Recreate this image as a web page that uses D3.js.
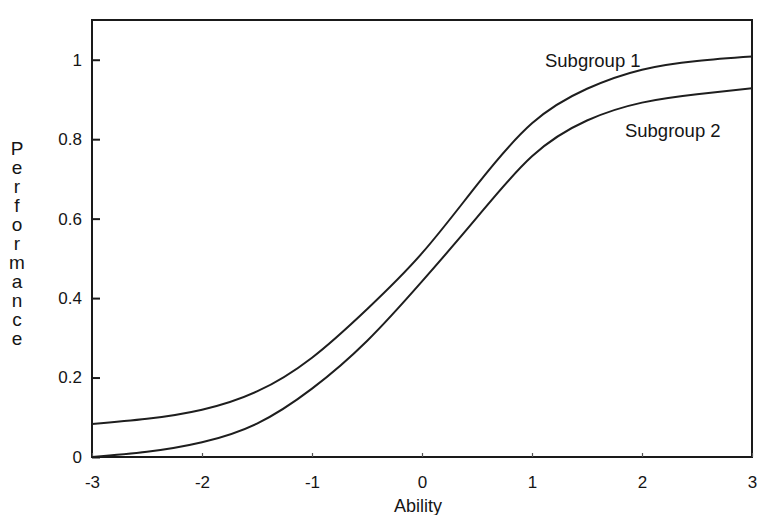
<!DOCTYPE html>
<html>
<head>
<meta charset="utf-8">
<script src="https://cdn.jsdelivr.net/npm/d3@7"></script>
<style>
  body { margin: 0; background: #fff; }
  text { font-family: "Liberation Sans", Arial, sans-serif; fill: #151515; }
</style>
</head>
<body>
<div id="chart"></div>
<script>
// values, x = ability
const abilityPoints = [-3, -2.5, -2, -1.5, -1, -0.5, 0, 0.5, 1, 1.5, 2, 2.5, 3];
const subgroup1 = [0.083, 0.096, 0.119, 0.165, 0.25, 0.372, 0.513, 0.685, 0.84, 0.927, 0.975, 0.997, 1.008];
const subgroup2 = [0.0, 0.013, 0.037, 0.084, 0.172, 0.292, 0.442, 0.603, 0.757, 0.847, 0.892, 0.913, 0.928];
const seriesNames = ["Subgroup 1", "Subgroup 2"];

const xTicks = [-3, -2, -1, 0, 1, 2, 3];
const yTicks = [0, 0.2, 0.4, 0.6, 0.8, 1];
const xTitle = "Ability";
const yTitle = "Performance";

const w = 761;
const h = 515;
const padLeft = 92, padRight = 752, padTop = 20, padBottom = 457;

const svg = d3.select("#chart")
  .append("svg")
  .attr("width", w)
  .attr("height", h);

const xScale = d3.scaleLinear().domain([-3, 3]).range([padLeft, padRight]);
const yScale = d3.scaleLinear().domain([0, 1.1]).range([padBottom, padTop]);

svg.append("clipPath")
  .attr("id", "plot-clip")
  .append("rect")
  .attr("x", padLeft)
  .attr("y", padTop)
  .attr("width", padRight - padLeft)
  .attr("height", padBottom - padTop);

// frame
svg.append("rect")
  .attr("x", padLeft)
  .attr("y", padTop)
  .attr("width", padRight - padLeft)
  .attr("height", padBottom - padTop)
  .attr("fill", "none")
  .attr("stroke", "#1a1a1a")
  .attr("stroke-width", 2);

const yAxis = d3.axisLeft(yScale)
  .tickValues(yTicks)
  .tickSizeInner(-8)
  .tickSizeOuter(0)
  .tickPadding(10)
  .tickFormat(d => d);

const xAxis = d3.axisBottom(xScale)
  .tickValues(xTicks)
  .tickSizeInner(-4)
  .tickSizeOuter(0)
  .tickPadding(19)
  .tickFormat(d => d);

const gy = svg.append("g")
  .attr("transform", "translate(" + padLeft + ",0)")
  .call(yAxis);

const gx = svg.append("g")
  .attr("transform", "translate(0," + padBottom + ")")
  .call(xAxis);

[gx, gy].forEach(g => {
  g.select(".domain").remove();
  g.selectAll("line").attr("stroke", "#1a1a1a").attr("stroke-width", 2);
  g.selectAll("text")
    .style("font-size", "17px")
    .style("font-family", '"Liberation Sans", Arial, sans-serif')
    .attr("fill", "#151515");
});
gx.selectAll("line").attr("stroke-width", 1.2).attr("stroke", "#555");

// curves
const line = d3.line()
  .x((d, i) => xScale(abilityPoints[i]))
  .y(d => yScale(d))
  .curve(d3.curveNatural);

[subgroup1, subgroup2].forEach(s => {
  svg.append("path")
    .datum(s)
    .attr("clip-path", "url(#plot-clip)")
    .attr("d", line)
    .attr("fill", "none")
    .attr("stroke", "#1e1e1e")
    .attr("stroke-width", 2);
});

// series labels
const labelAt = [[1.118, 0.982], [1.845, 0.805]];
svg.selectAll(".series-label")
  .data(seriesNames)
  .enter()
  .append("text")
  .attr("class", "series-label")
  .attr("x", (d, i) => xScale(labelAt[i][0]))
  .attr("y", (d, i) => yScale(labelAt[i][1]))
  .style("font-size", "18.5px")
  .text(d => d);

// axis titles
svg.append("text")
  .attr("x", (padLeft + padRight) / 2 - 4)
  .attr("y", 512)
  .attr("text-anchor", "middle")
  .style("font-size", "18px")
  .text(xTitle);

const yt = svg.append("text")
  .attr("x", 17)
  .attr("y", 155)
  .attr("text-anchor", "middle")
  .style("font-size", "19px");

yt.selectAll("tspan")
  .data(yTitle.split(""))
  .enter()
  .append("tspan")
  .attr("x", 17)
  .attr("dy", (d, i) => i === 0 ? 0 : 19)
  .text(d => d);
</script>
</body>
</html>
